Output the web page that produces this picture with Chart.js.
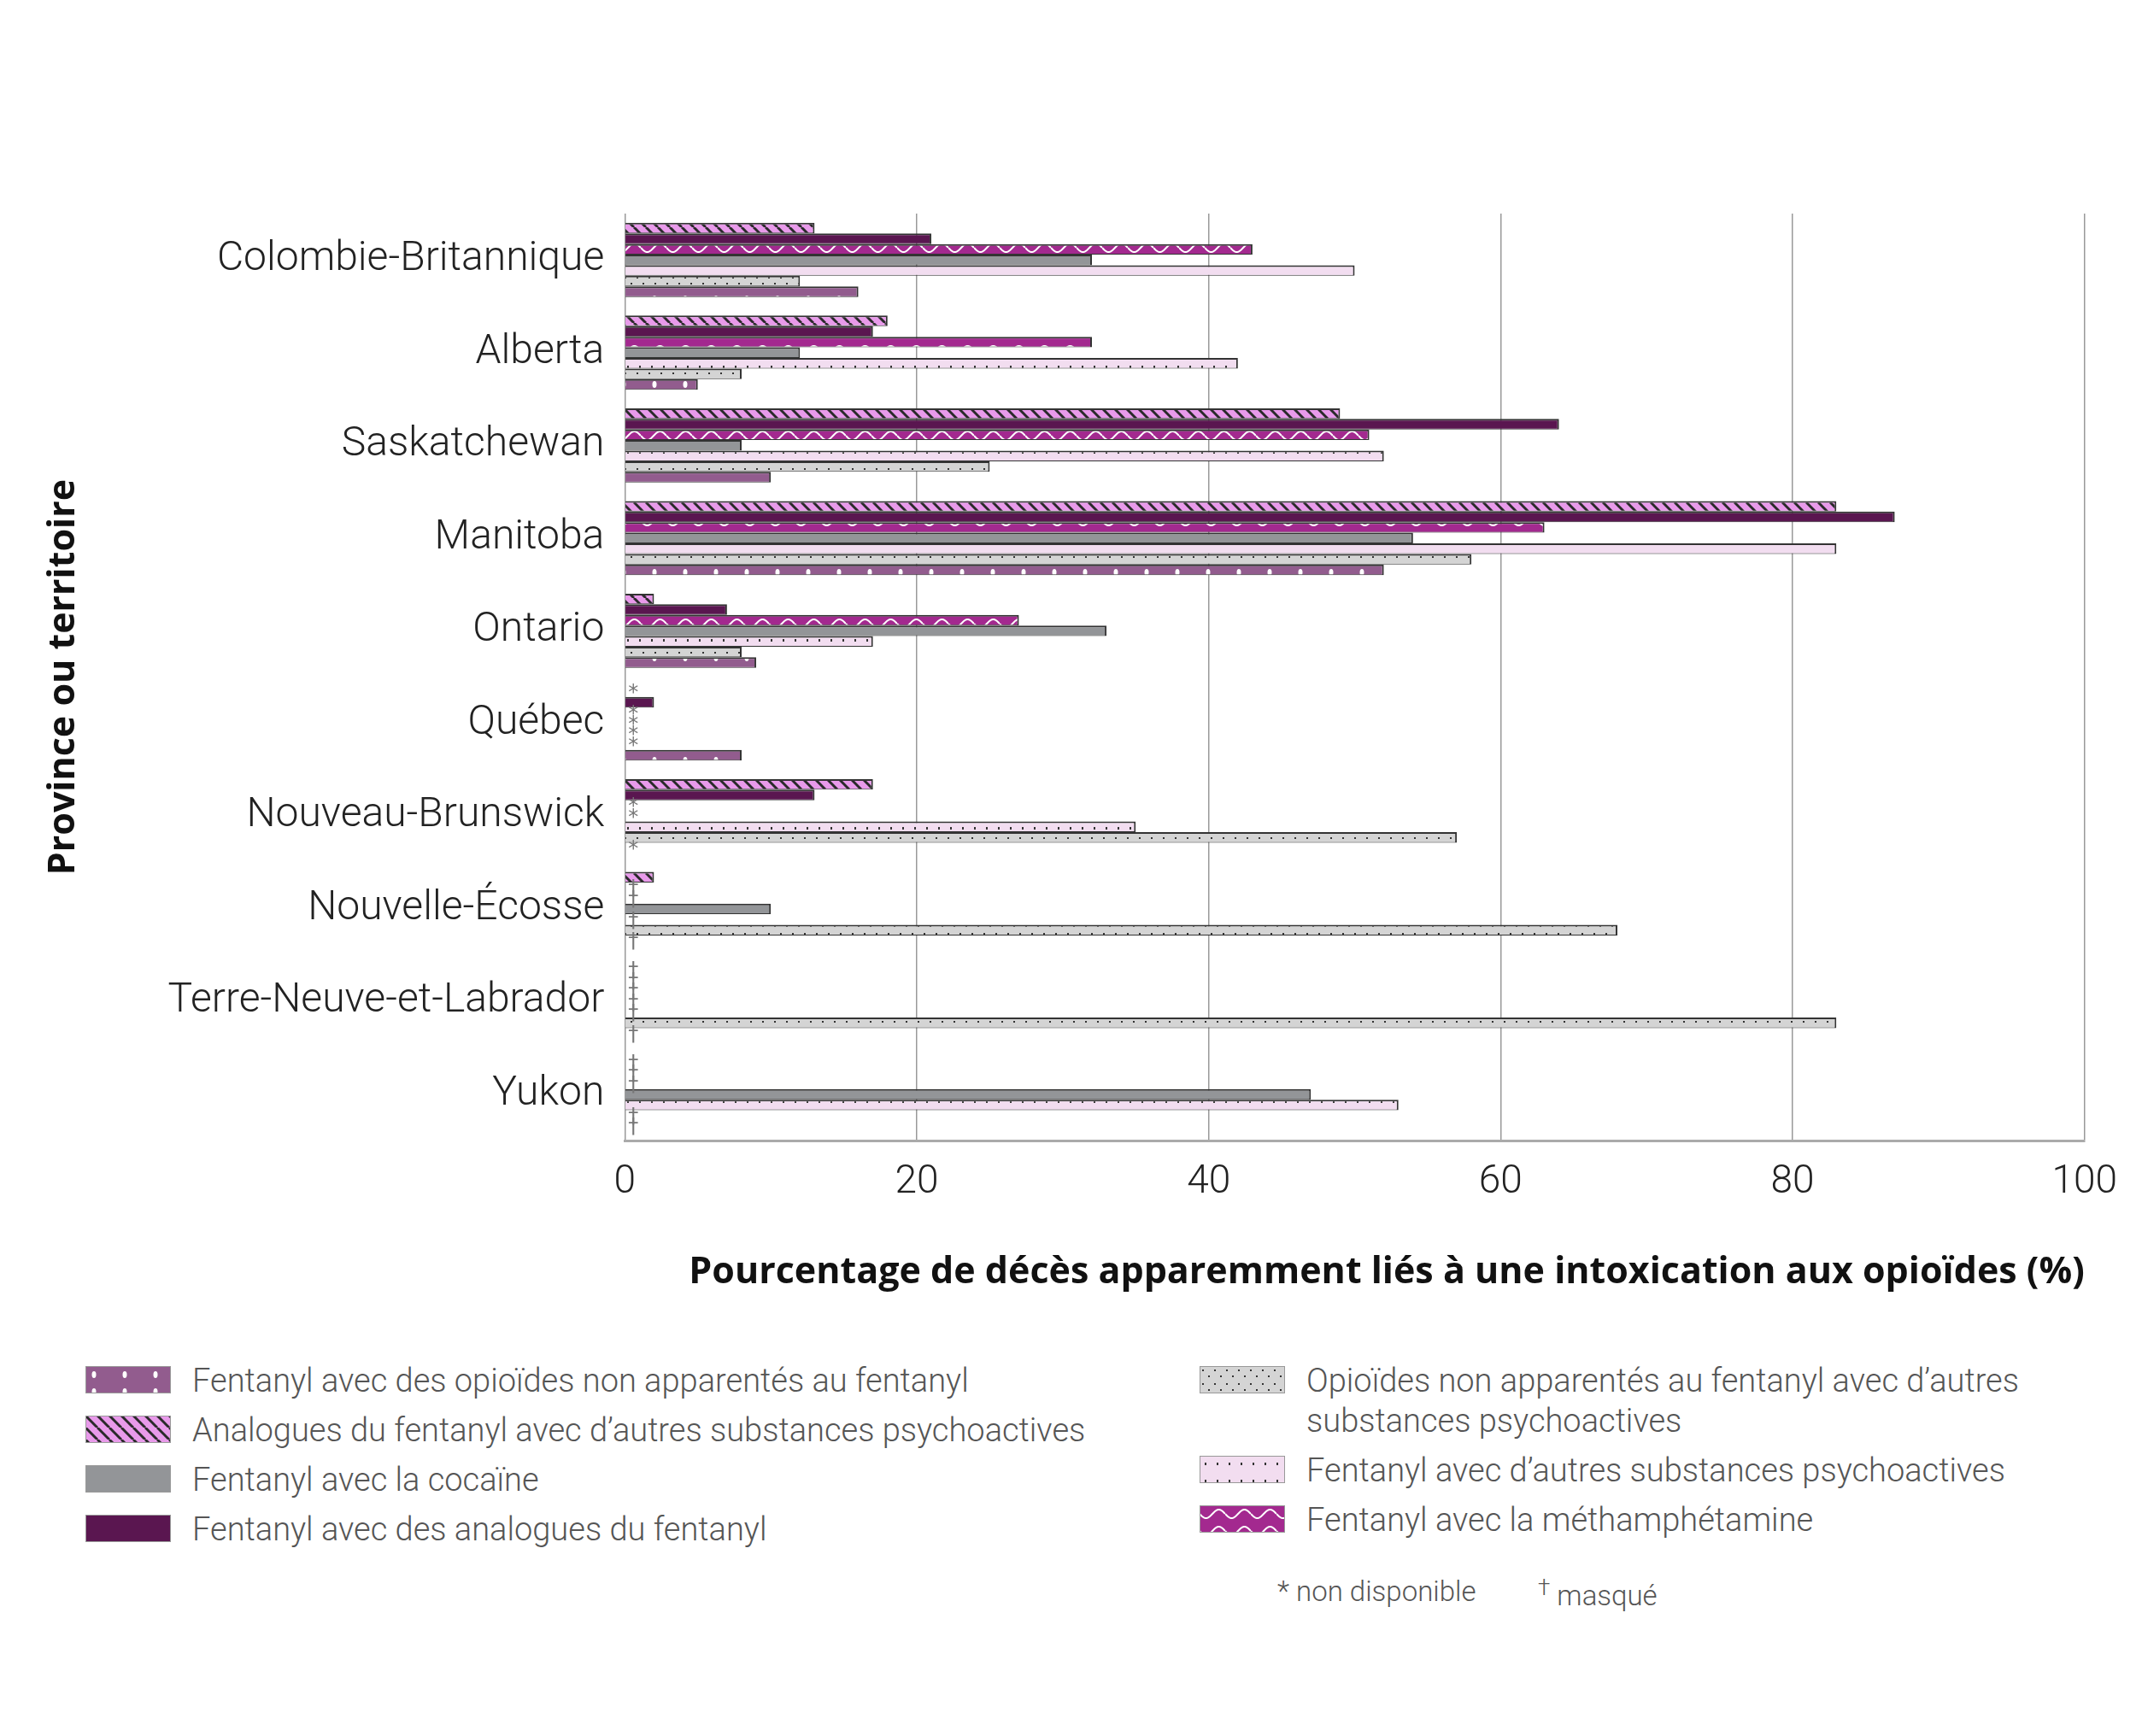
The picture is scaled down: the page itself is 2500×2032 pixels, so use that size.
<!DOCTYPE html>
<html><head><meta charset="utf-8">
<script src="https://cdn.jsdelivr.net/npm/chart.js@4"></script>
<style>
body{margin:0;background:#fff;width:2500px;height:2032px;position:relative;font-family:Roboto,"Noto Sans",sans-serif;color:#444}
#wrap{position:absolute;left:0;top:0;width:2500px;height:1540px}
.lg{position:absolute;font-size:38px;font-weight:300;color:#555;line-height:47px}
.lg canvas{position:absolute;left:-125px;top:6px}
.fn{position:absolute;font-size:33px;font-weight:300;color:#555}
</style></head><body>
<div id="wrap"><canvas id="c"></canvas></div>
<div id="legend"></div>
<div class="fn" style="left:1495px;top:1843px">* non disponible</div>
<div class="fn" style="left:1800px;top:1843px"><sup style="font-size:26px">†</sup> masqué</div>
<script>
const categories=["Colombie-Britannique","Alberta","Saskatchewan","Manitoba","Ontario","Québec","Nouveau-Brunswick","Nouvelle-Écosse","Terre-Neuve-et-Labrador","Yukon"];
const seriesNames=["Analogues du fentanyl avec d’autres substances psychoactives","Fentanyl avec des analogues du fentanyl","Fentanyl avec la méthamphétamine","Fentanyl avec la cocaïne","Fentanyl avec d’autres substances psychoactives","Opioïdes non apparentés au fentanyl avec d’autres substances psychoactives","Fentanyl avec des opioïdes non apparentés au fentanyl"];
const analogues=[13,18,49,83,2,0,17,2,0,0];
const fentAnalogues=[21,17,64,87,7,2,13,0,0,0];
const meth=[43,32,51,63,27,0,0,0,0,0];
const cocaine=[32,12,8,54,33,0,0,10,0,47];
const otherPsy=[50,42,52,83,17,0,35,0,0,53];
const nonFent=[12,8,25,58,8,0,57,68,83,0];
const fentNonFent=[16,5,10,52,9,8,0,0,0,0];
// markers: "*" non disponible, "†" masqué
const mAnalogues=["","","","","","*","","","†","†"];
const mFentAnalogues=["","","","","","","","†","†","†"];
const mMeth=["","","","","","*","*","†","†","†"];
const mCocaine=["","","","","","*","*","","†",""];
const mOtherPsy=["","","","","","*","","†","†",""];
const mNonFent=["","","","","","*","","","","†"];
const mFentNonFent=["","","","","","","*","†","†","†"];
const xTicks=[0,20,40,60,80,100];

function pat(bg,draw,w,h){const c=document.createElement('canvas');c.width=w||16;c.height=h||16;const x=c.getContext('2d');x.fillStyle=bg;x.fillRect(0,0,c.width,c.height);draw&&draw(x,c.width,c.height);return x.createPattern(c,'repeat');}
function mk(){return [
 pat('#E89AEA',(x,w,h)=>{x.strokeStyle='#2a2a2a';x.lineWidth=3;for(let o=-w;o<=w;o+=w){x.beginPath();x.moveTo(o,0);x.lineTo(o+w,h);x.stroke();}},14,14),
 '#5A1650',
 pat('#A3298F',(x,w,h)=>{x.strokeStyle='#fff';x.lineWidth=2;x.beginPath();for(let i=0;i<=w;i++){x.lineTo(i,h/2+5*Math.sin(i/w*Math.PI*2));}x.stroke();},30,20),
 '#939598',
 pat('#F2DDF0',(x)=>{x.fillStyle='#333';x.fillRect(6,8,2,3);},14,20),
 pat('#D4D4D4',(x)=>{x.fillStyle='#333';x.fillRect(3,4,2,2);x.fillRect(10,11,2,2);},14,16),
 pat('#925C8E',(x)=>{x.fillStyle='#fff';x.beginPath();x.ellipse(10,10,2.5,4,0,0,Math.PI*2);x.fill();},36,20)
];}
const fills=mk();
const data=[analogues,fentAnalogues,meth,cocaine,otherPsy,nonFent,fentNonFent];
const marks=[mAnalogues,mFentAnalogues,mMeth,mCocaine,mOtherPsy,mNonFent,mFentNonFent];
const markPlugin={id:'marks',afterDatasetsDraw(ch){const g=ch.ctx;const x0=ch.scales.x.getPixelForValue(0);g.save();g.fillStyle='#777';g.font='24px "DejaVu Sans"';g.textAlign='left';g.textBaseline='middle';
 marks.forEach((m,i)=>{const meta=ch.getDatasetMeta(i);m.forEach((s,j)=>{if(s){g.fillText(s,x0+4,meta.data[j].y+2);}});});g.restore();}};
new Chart(document.getElementById('c'),{type:'bar',
 data:{labels:categories,datasets:data.map((d,i)=>({label:seriesNames[i],data:d,backgroundColor:fills[i],borderColor:'#333',borderWidth:d.map(v=>v?{top:2,right:2,bottom:1,left:0}:0),categoryPercentage:0.8,barPercentage:1}))},
 options:{indexAxis:'y',responsive:true,maintainAspectRatio:false,animation:false,
  layout:{padding:{left:45,right:55,top:250,bottom:20}},
  plugins:{legend:{display:false},tooltip:{enabled:false}},
  scales:{x:{min:0,max:100,afterBuildTicks:s=>{s.ticks=xTicks.map(v=>({value:v}));},
    grid:{color:'#999',lineWidth:1.5,drawTicks:false},border:{color:'#aaa',width:3},
    ticks:{color:'#222',padding:22,font:{size:46,family:'Roboto',weight:300}},
    title:{display:true,text:'Pourcentage de décès apparemment liés à une intoxication aux opioïdes (%)',color:'#111',font:{size:43,weight:'bold',family:'"Open Sans"'},padding:{top:30},align:'end'}},
   y:{grid:{display:false},border:{display:false},ticks:{color:'#222',padding:16,font:{size:48,family:'Roboto',weight:300}},
    title:{display:true,text:'Province ou territoire',color:'#111',font:{size:43,weight:'bold',family:'"Open Sans"'},padding:{bottom:80}}}}},
 plugins:[markPlugin]});
// legend
const pos=[[225,1593,6],[225,1651,0],[225,1709,3],[225,1767,1],[1529,1593,5],[1529,1698,4],[1529,1756,2]];
const L=document.getElementById('legend');
pos.forEach(([l,t,i])=>{const d=document.createElement('div');d.className='lg';d.style.left=l+'px';d.style.top=t+'px';if(i===5){d.style.width='900px';}
 const c=document.createElement('canvas');c.width=100;c.height=32;const g=c.getContext('2d');g.fillStyle=fills[i];g.fillRect(0,0,100,32);g.strokeStyle='#999';g.strokeRect(0.5,0.5,99,31);
 d.appendChild(c);d.appendChild(document.createTextNode(seriesNames[i]));L.appendChild(d);});
</script></body></html>
